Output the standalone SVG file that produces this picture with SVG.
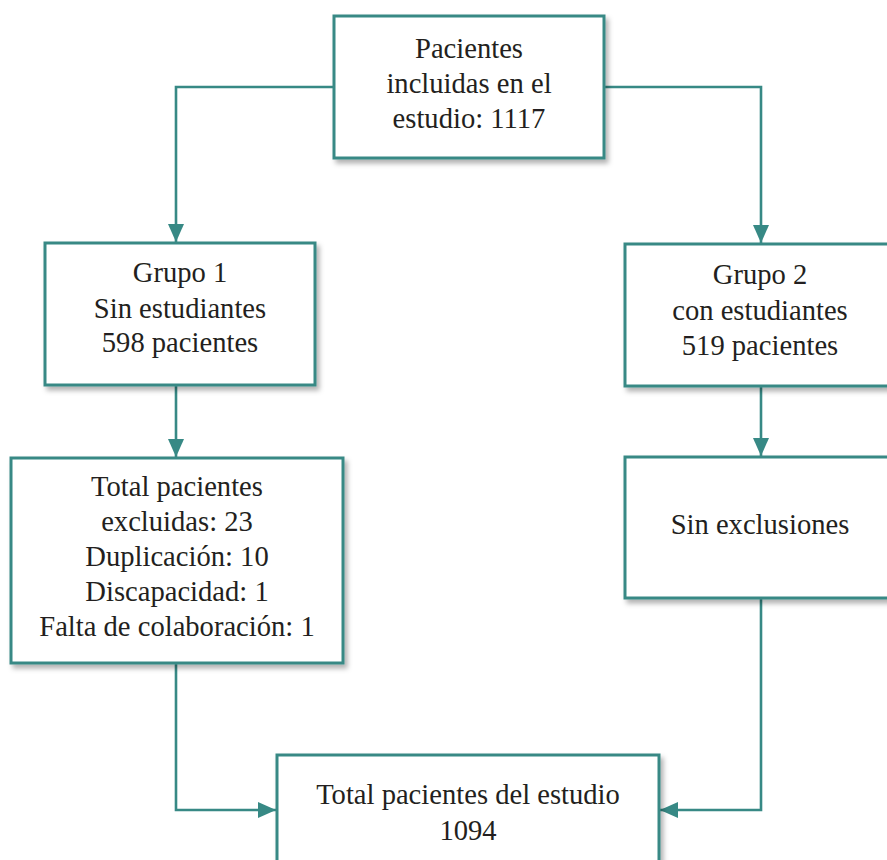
<svg xmlns="http://www.w3.org/2000/svg" width="887" height="860" viewBox="0 0 887 860">
  <style>
    .box { fill: #ffffff; stroke: #378985; stroke-width: 3; filter: url(#shadow); }
    .conn { fill: none; stroke: #378985; stroke-width: 2.6; }
    .txt { font-family: "Liberation Serif", "Times New Roman", serif; font-size: 28.6px; fill: #231f20; text-anchor: middle; }
  </style>
  <defs>
    <filter id="shadow" x="-10%" y="-10%" width="130%" height="130%">
      <feDropShadow dx="3" dy="4" stdDeviation="2.5" flood-color="#000000" flood-opacity="0.3"/>
    </filter>
    <marker id="arrow" viewBox="0 0 18 16" refX="18" refY="8" markerWidth="18" markerHeight="16" markerUnits="userSpaceOnUse" orient="auto">
      <path d="M0,0 L18,8 L0,16 Z" fill="#378985"/>
    </marker>
  </defs>

  <g id="connectors">
    <path class="conn" d="M333,87 H176 V242" marker-end="url(#arrow)"/>
    <path class="conn" d="M605,87 H761 V243" marker-end="url(#arrow)"/>
    <path class="conn" d="M176,386 V457" marker-end="url(#arrow)"/>
    <path class="conn" d="M761,387 V456" marker-end="url(#arrow)"/>
    <path class="conn" d="M176,664 V810 H276" marker-end="url(#arrow)"/>
    <path class="conn" d="M761,599 V810 H660" marker-end="url(#arrow)"/>
  </g>

  <g id="n-incluidas">
    <rect class="box" x="334" y="16" width="270" height="142"/>
    <text class="txt" x="469" y="58">Pacientes</text>
    <text class="txt" x="469" y="93">incluidas en el</text>
    <text class="txt" x="469" y="128">estudio: 1117</text>
  </g>

  <g id="n-grupo1">
    <rect class="box" x="45" y="243" width="270" height="142"/>
    <text class="txt" x="180" y="282">Grupo 1</text>
    <text class="txt" x="180" y="318">Sin estudiantes</text>
    <text class="txt" x="180" y="352">598 pacientes</text>
  </g>

  <g id="n-grupo2">
    <rect class="box" x="625" y="244" width="275" height="142"/>
    <text class="txt" x="760" y="284">Grupo 2</text>
    <text class="txt" x="760" y="320">con estudiantes</text>
    <text class="txt" x="760" y="355">519 pacientes</text>
  </g>

  <g id="n-excluidas">
    <rect class="box" x="11" y="458" width="332" height="205"/>
    <text class="txt" x="177" y="496">Total pacientes</text>
    <text class="txt" x="177" y="531">excluidas: 23</text>
    <text class="txt" x="177" y="566">Duplicación: 10</text>
    <text class="txt" x="177" y="601">Discapacidad: 1</text>
    <text class="txt" x="177" y="636">Falta de colaboración: 1</text>
  </g>

  <g id="n-sinexclusiones">
    <rect class="box" x="625" y="457" width="275" height="141"/>
    <text class="txt" x="760" y="534">Sin exclusiones</text>
  </g>

  <g id="n-total">
    <rect class="box" x="277" y="755" width="382" height="120"/>
    <text class="txt" x="468" y="804">Total pacientes del estudio</text>
    <text class="txt" x="468" y="840">1094</text>
  </g>
</svg>
